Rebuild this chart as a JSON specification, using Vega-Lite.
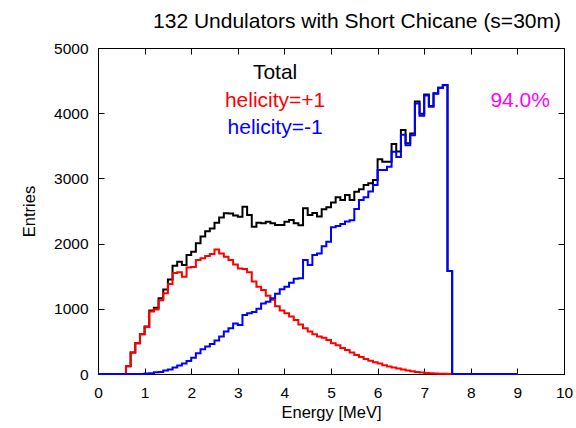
{
  "$schema": "https://vega.github.io/schema/vega-lite/v6.json",
  "autosize": {"type": "none"},
  "padding": {"left": 98, "top": 48, "right": 12, "bottom": 54},
  "width": 466,
  "height": 326,
  "background": "white",
  "title": {"text": "132 Undulators with Short Chicane (s=30m)", "font": "Liberation Sans", "fontSize": 21, "fontWeight": "normal", "color": "black", "anchor": "middle", "offset": 9, "dx": 26},
  "config": {
    "view": {"stroke": "black", "strokeWidth": 1},
    "axis": {"labelFont": "Liberation Sans", "labelFontSize": 15.5, "labelColor": "black", "titleFont": "Liberation Sans", "titleFontSize": 16.5, "titleFontWeight": "normal", "titleColor": "black", "domainColor": "black", "tickColor": "black", "grid": false, "tickSize": -6, "labelFlush": false, "labelOverlap": false}
  },
  "datasets": {
    "total": [
      {"E":0.0,"n":0},{"E":0.1,"n":0},{"E":0.2,"n":0},{"E":0.3,"n":0},{"E":0.4,"n":0},{"E":0.5,"n":0},
      {"E":0.6,"n":120},{"E":0.7,"n":330},{"E":0.8,"n":470},{"E":0.9,"n":610},{"E":1.0,"n":730},
      {"E":1.1,"n":975},{"E":1.2,"n":1015},{"E":1.3,"n":1160},{"E":1.4,"n":1295},{"E":1.5,"n":1450},
      {"E":1.6,"n":1660},{"E":1.7,"n":1720},{"E":1.8,"n":1670},{"E":1.9,"n":1825},{"E":2.0,"n":1876},
      {"E":2.1,"n":2004},{"E":2.2,"n":2110},{"E":2.3,"n":2190},{"E":2.4,"n":2230},{"E":2.5,"n":2320},
      {"E":2.6,"n":2400},{"E":2.7,"n":2464},{"E":2.8,"n":2460},{"E":2.9,"n":2430},{"E":3.0,"n":2410},
      {"E":3.1,"n":2566},{"E":3.2,"n":2440},{"E":3.3,"n":2260},{"E":3.4,"n":2320},{"E":3.5,"n":2311},
      {"E":3.6,"n":2336},{"E":3.7,"n":2311},{"E":3.8,"n":2285},{"E":3.9,"n":2285},{"E":4.0,"n":2336},
      {"E":4.1,"n":2362},{"E":4.2,"n":2311},{"E":4.3,"n":2280},{"E":4.4,"n":2541},{"E":4.5,"n":2439},
      {"E":4.6,"n":2470},{"E":4.7,"n":2414},{"E":4.8,"n":2526},{"E":4.9,"n":2557},{"E":5.0,"n":2629},
      {"E":5.1,"n":2710},{"E":5.2,"n":2670},{"E":5.3,"n":2746},{"E":5.4,"n":2670},{"E":5.5,"n":2797},
      {"E":5.6,"n":2833},{"E":5.7,"n":2900},{"E":5.8,"n":2925},{"E":5.9,"n":2976},{"E":6.0,"n":3293},
      {"E":6.1,"n":3257},{"E":6.2,"n":3257},{"E":6.3,"n":3528},{"E":6.4,"n":3411},{"E":6.5,"n":3743},
      {"E":6.6,"n":3538},{"E":6.7,"n":3690},{"E":6.8,"n":4180},{"E":6.9,"n":3990},{"E":7.0,"n":4285},
      {"E":7.1,"n":4110},{"E":7.2,"n":4305},{"E":7.3,"n":4392},{"E":7.4,"n":4432},{"E":7.5,"n":1580},
      {"E":7.6,"n":0},{"E":7.7,"n":0},{"E":7.8,"n":0},{"E":7.9,"n":0},{"E":8.0,"n":0},
      {"E":8.1,"n":0},{"E":8.2,"n":0},{"E":8.3,"n":0},{"E":8.4,"n":0},{"E":8.5,"n":0},
      {"E":8.6,"n":0},{"E":8.7,"n":0},{"E":8.8,"n":0},{"E":8.9,"n":0},{"E":9.0,"n":0}
    ],
    "plus": [
      {"E":0.0,"n":0},{"E":0.1,"n":0},{"E":0.2,"n":0},{"E":0.3,"n":0},{"E":0.4,"n":0},{"E":0.5,"n":0},
      {"E":0.6,"n":120},{"E":0.7,"n":330},{"E":0.8,"n":470},{"E":0.9,"n":610},{"E":1.0,"n":720},
      {"E":1.1,"n":960},{"E":1.2,"n":990},{"E":1.3,"n":1130},{"E":1.4,"n":1240},{"E":1.5,"n":1380},
      {"E":1.6,"n":1550},{"E":1.7,"n":1560},{"E":1.8,"n":1490},{"E":1.9,"n":1635},{"E":2.0,"n":1640},
      {"E":2.1,"n":1750},{"E":2.2,"n":1775},{"E":2.3,"n":1810},{"E":2.4,"n":1840},{"E":2.5,"n":1910},
      {"E":2.6,"n":1850},{"E":2.7,"n":1800},{"E":2.8,"n":1750},{"E":2.9,"n":1680},{"E":3.0,"n":1620},
      {"E":3.1,"n":1610},{"E":3.2,"n":1560},{"E":3.3,"n":1420},{"E":3.4,"n":1340},{"E":3.5,"n":1290},
      {"E":3.6,"n":1200},{"E":3.7,"n":1140},{"E":3.8,"n":1040},{"E":3.9,"n":975},{"E":4.0,"n":930},
      {"E":4.1,"n":880},{"E":4.2,"n":830},{"E":4.3,"n":760},{"E":4.4,"n":700},{"E":4.5,"n":650},
      {"E":4.6,"n":610},{"E":4.7,"n":575},{"E":4.8,"n":555},{"E":4.9,"n":520},{"E":5.0,"n":470},
      {"E":5.1,"n":440},{"E":5.2,"n":400},{"E":5.3,"n":370},{"E":5.4,"n":330},{"E":5.5,"n":290},
      {"E":5.6,"n":260},{"E":5.7,"n":230},{"E":5.8,"n":205},{"E":5.9,"n":180},{"E":6.0,"n":160},
      {"E":6.1,"n":135},{"E":6.2,"n":115},{"E":6.3,"n":100},{"E":6.4,"n":85},{"E":6.5,"n":70},
      {"E":6.6,"n":55},{"E":6.7,"n":42},{"E":6.8,"n":32},{"E":6.9,"n":24},{"E":7.0,"n":17},
      {"E":7.1,"n":11},{"E":7.2,"n":7},{"E":7.3,"n":4},{"E":7.4,"n":2},{"E":7.5,"n":0},
      {"E":7.6,"n":0},{"E":7.7,"n":0},{"E":7.8,"n":0},{"E":7.9,"n":0},{"E":8.0,"n":0},
      {"E":8.1,"n":0},{"E":8.2,"n":0},{"E":8.3,"n":0},{"E":8.4,"n":0},{"E":8.5,"n":0},
      {"E":8.6,"n":0},{"E":8.7,"n":0},{"E":8.8,"n":0},{"E":8.9,"n":0},{"E":9.0,"n":0}
    ],
    "minus": [
      {"E":0.0,"n":0},{"E":0.1,"n":0},{"E":0.2,"n":0},{"E":0.3,"n":0},{"E":0.4,"n":0},{"E":0.5,"n":0},
      {"E":0.6,"n":0},{"E":0.7,"n":0},{"E":0.8,"n":0},{"E":0.9,"n":0},{"E":1.0,"n":8},
      {"E":1.1,"n":12},{"E":1.2,"n":25},{"E":1.3,"n":30},{"E":1.4,"n":55},{"E":1.5,"n":70},
      {"E":1.6,"n":100},{"E":1.7,"n":130},{"E":1.8,"n":160},{"E":1.9,"n":200},{"E":2.0,"n":250},
      {"E":2.1,"n":320},{"E":2.2,"n":380},{"E":2.3,"n":420},{"E":2.4,"n":460},{"E":2.5,"n":515},
      {"E":2.6,"n":575},{"E":2.7,"n":650},{"E":2.8,"n":700},{"E":2.9,"n":775},{"E":3.0,"n":750},
      {"E":3.1,"n":905},{"E":3.2,"n":930},{"E":3.3,"n":950},{"E":3.4,"n":1000},{"E":3.5,"n":1080},
      {"E":3.6,"n":1110},{"E":3.7,"n":1160},{"E":3.8,"n":1230},{"E":3.9,"n":1300},{"E":4.0,"n":1340},
      {"E":4.1,"n":1400},{"E":4.2,"n":1460},{"E":4.3,"n":1470},{"E":4.4,"n":1750},{"E":4.5,"n":1670},
      {"E":4.6,"n":1825},{"E":4.7,"n":1850},{"E":4.8,"n":1960},{"E":4.9,"n":2030},{"E":5.0,"n":2250},
      {"E":5.1,"n":2270},{"E":5.2,"n":2300},{"E":5.3,"n":2340},{"E":5.4,"n":2360},{"E":5.5,"n":2530},
      {"E":5.6,"n":2670},{"E":5.7,"n":2710},{"E":5.8,"n":2800},{"E":5.9,"n":2900},{"E":6.0,"n":3130},
      {"E":6.1,"n":3130},{"E":6.2,"n":3180},{"E":6.3,"n":3410},{"E":6.4,"n":3330},{"E":6.5,"n":3670},
      {"E":6.6,"n":3510},{"E":6.7,"n":3660},{"E":6.8,"n":4150},{"E":6.9,"n":3960},{"E":7.0,"n":4270},
      {"E":7.1,"n":4100},{"E":7.2,"n":4300},{"E":7.3,"n":4390},{"E":7.4,"n":4430},{"E":7.5,"n":1580},
      {"E":7.6,"n":0},{"E":7.7,"n":0},{"E":7.8,"n":0},{"E":7.9,"n":0},{"E":8.0,"n":0},
      {"E":8.1,"n":0},{"E":8.2,"n":0},{"E":8.3,"n":0},{"E":8.4,"n":0},{"E":8.5,"n":0},
      {"E":8.6,"n":0},{"E":8.7,"n":0},{"E":8.8,"n":0},{"E":8.9,"n":0},{"E":9.0,"n":0}
    ],
    "one": [{}]
  },
  "layer": [
    {
      "data": {"name": "total"},
      "mark": {"type": "line", "interpolate": "step-after", "color": "black", "strokeWidth": 2},
      "encoding": {
        "x": {"field": "E", "type": "quantitative", "scale": {"domain": [0, 10], "nice": false}, "axis": {"orient": "bottom", "title": "Energy [MeV]", "values": [0,1,2,3,4,5,6,7,8,9,10], "labelPadding": 17, "titlePadding": 4}},
        "y": {"field": "n", "type": "quantitative", "scale": {"domain": [0, 5000], "nice": false}, "axis": {"orient": "left", "title": "Entries", "values": [0,1000,2000,3000,4000,5000], "format": "d", "labelPadding": 16, "titlePadding": 16}}
      }
    },
    {
      "data": {"name": "plus"},
      "mark": {"type": "line", "interpolate": "step-after", "color": "#ff0000", "strokeWidth": 2},
      "encoding": {
        "x": {"field": "E", "type": "quantitative", "axis": {"orient": "top", "labels": false, "title": null, "values": [0,1,2,3,4,5,6,7,8,9,10]}},
        "y": {"field": "n", "type": "quantitative", "axis": {"orient": "right", "labels": false, "title": null, "values": [0,1000,2000,3000,4000,5000]}}
      }
    },
    {
      "data": {"name": "minus"},
      "mark": {"type": "line", "interpolate": "step-after", "color": "#0000ff", "strokeWidth": 2},
      "encoding": {
        "x": {"field": "E", "type": "quantitative", "axis": null},
        "y": {"field": "n", "type": "quantitative", "axis": null}
      }
    },
    {
      "data": {"name": "one"},
      "mark": {"type": "text", "text": "Total", "font": "Liberation Sans", "fontSize": 21, "color": "black", "align": "center", "baseline": "middle"},
      "encoding": {"x": {"datum": 3.8, "type": "quantitative", "axis": null}, "y": {"datum": 4617, "type": "quantitative", "axis": null}}
    },
    {
      "data": {"name": "one"},
      "mark": {"type": "text", "text": "helicity=+1", "font": "Liberation Sans", "fontSize": 21, "color": "#ff0000", "align": "center", "baseline": "middle"},
      "encoding": {"x": {"datum": 3.8, "type": "quantitative", "axis": null}, "y": {"datum": 4187, "type": "quantitative", "axis": null}}
    },
    {
      "data": {"name": "one"},
      "mark": {"type": "text", "text": "helicity=-1", "font": "Liberation Sans", "fontSize": 21, "color": "#0000ff", "align": "center", "baseline": "middle"},
      "encoding": {"x": {"datum": 3.8, "type": "quantitative", "axis": null}, "y": {"datum": 3773, "type": "quantitative", "axis": null}}
    },
    {
      "data": {"name": "one"},
      "mark": {"type": "text", "text": "94.0%", "font": "Liberation Sans", "fontSize": 21, "color": "#ff00ff", "align": "center", "baseline": "middle"},
      "encoding": {"x": {"datum": 9.06, "type": "quantitative", "axis": null}, "y": {"datum": 4187, "type": "quantitative", "axis": null}}
    }
  ],
  "resolve": {"axis": {"x": "independent", "y": "independent"}}
}
